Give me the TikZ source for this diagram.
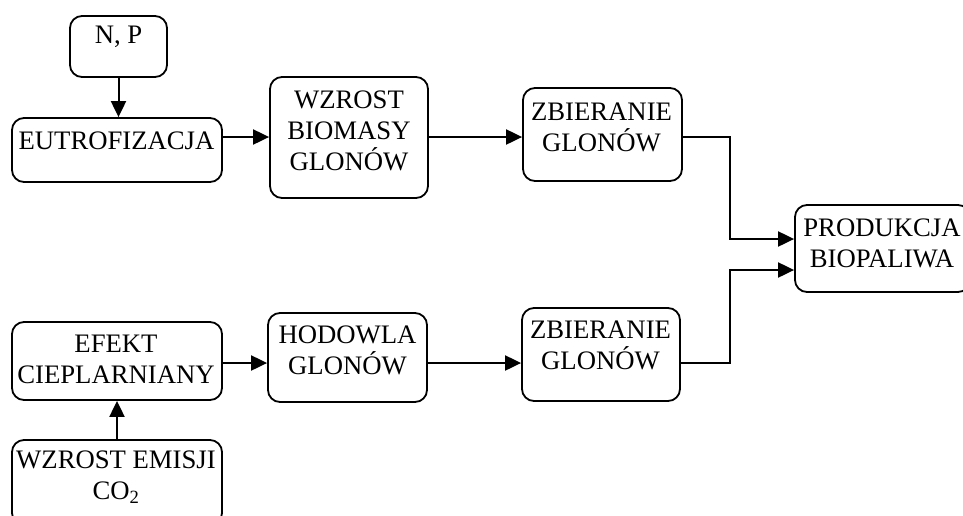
\documentclass[tikz,border=0pt]{standalone}
\usepackage{fontspec}
\setmainfont{Liberation Serif}
\usetikzlibrary{arrows.meta}
\begin{document}
\begin{tikzpicture}[x=1pt,y=-1pt,
 box/.style={draw, line width=1.8pt, rounded corners=12pt, inner sep=0pt},
 lbl/.style={align=center, inner sep=0pt, font=\fontsize{26.7}{31}\selectfont},
 conn/.style={line width=2pt},
 arr/.style={conn, -{Triangle[length=16pt,width=15pt]}}]
\useasboundingbox (0,0) rectangle (963,515);
% boxes
\node[box, minimum width=97pt,  minimum height=61pt]  (np)     at (118.5,46.5) {};
\node[box, minimum width=210pt, minimum height=64pt]  (eutro)  at (117,150) {};
\node[box, minimum width=158pt, minimum height=121pt] (wzrost) at (349,137.5) {};
\node[box, minimum width=159pt, minimum height=93pt]  (zb1)    at (602.5,134.5) {};
\node[box, minimum width=175pt, minimum height=87pt]  (prod)   at (882.5,248.5) {};
\node[box, minimum width=210pt, minimum height=78pt]  (efekt)  at (117,361) {};
\node[box, minimum width=159pt, minimum height=89pt]  (hod)    at (347.5,357.5) {};
\node[box, minimum width=158pt, minimum height=93pt]  (zb2)    at (601,354.5) {};
\node[box, minimum width=210pt, minimum height=85pt]  (emis)   at (117,482.5) {};
% texts
\node[lbl] (npT)     at (118.5,37) {N, P};
\node[lbl] (eutroT)  at (116.5,141) {EUTROFIZACJA};
\node[lbl] (wzrostT) at (349,131) {WZROST\\BIOMASY\\GLONÓW};
\node[lbl] (zb1T)    at (601.5,127) {ZBIERANIE\\GLONÓW};
\node[lbl] (prodT)   at (882,243) {PRODUKCJA\\BIOPALIWA};
\node[lbl] (efektT)  at (116,359) {EFEKT\\CIEPLARNIANY};
\node[lbl] (hodT)    at (347.5,350) {HODOWLA\\GLONÓW};
\node[lbl] (zb2T)    at (600.5,345) {ZBIERANIE\\GLONÓW};
\node[lbl] (emisT)   at (116,477) {WZROST EMISJI\\CO\textsubscript{2}};
% junctions
\coordinate (ytop) at (0,137);
\coordinate (ylow) at (0,363);
\coordinate (j1) at (730,137);
\coordinate (j2) at (730,239);
\coordinate (j3) at (730,270);
\coordinate (j4) at (730,363);
% connectors
\draw[arr] (np.south) -- (np.south |- eutro.north);
\draw[arr] (eutro.east |- ytop) -- (wzrost.west |- ytop);
\draw[arr] (wzrost.east |- ytop) -- (zb1.west |- ytop);
\draw[arr] (zb1.east |- j1) -- (j1) -- (j2) -- (j2 -| prod.west);
\draw[arr] (emis.north) -- (emis.north |- efekt.south);
\draw[arr] (efekt.east |- ylow) -- (hod.west |- ylow);
\draw[arr] (hod.east |- ylow) -- (zb2.west |- ylow);
\draw[arr] (zb2.east |- j4) -- (j4) -- (j3) -- (j3 -| prod.west);
\end{tikzpicture}
\end{document}
